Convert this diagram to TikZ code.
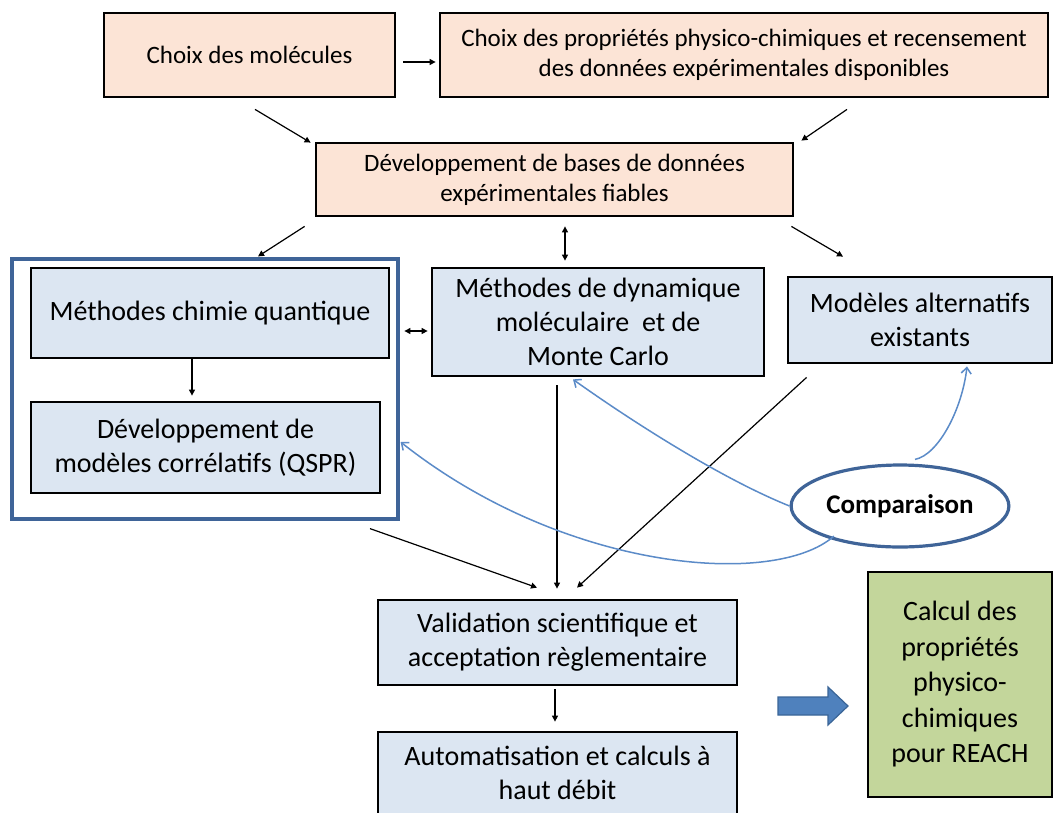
\documentclass[tikz,border=0pt]{standalone}
\usepackage{fontspec}
\setmainfont{Carlito}
\usetikzlibrary{calc,arrows.meta,shapes.geometric,shadows}
\definecolor{peach}{HTML}{FCE4D6}
\definecolor{paleblue}{HTML}{DCE6F2}
\definecolor{palegreen}{HTML}{C3D69B}
\definecolor{framblue}{HTML}{3F6498}
\definecolor{curveblue}{HTML}{5B8BC8}
\definecolor{arrfill}{HTML}{4F81BD}
\definecolor{arrdraw}{HTML}{3A6597}
\begin{document}
\begin{tikzpicture}[x=1pt,y=-1pt,
  boxbase/.style={draw=black, line width=2.8pt, align=center, inner sep=2pt,
    drop shadow={shadow xshift=0.8pt, shadow yshift=-1.2pt, fill=black, opacity=1}},
  topbox/.style={boxbase, fill=peach, font=\fontsize{25}{30}\selectfont},
  bluebox/.style={boxbase, fill=paleblue, font=\fontsize{28}{34}\selectfont},
  greenbox/.style={boxbase, fill=palegreen, font=\fontsize{28}{35.5}\selectfont},
  arr/.style={-{Triangle[length=6pt,width=6pt]}, line width=1.2pt, black},
  darr/.style={{Triangle[length=6pt,width=6pt]}-{Triangle[length=6pt,width=6pt]}, line width=1.2pt, black},
  barr/.style={-{Straight Barb[length=6pt,width=10pt]}, line width=1.5pt, curveblue},
]
\useasboundingbox (0,0) rectangle (1054,812);
\fill[white] (0,0) rectangle (1054,812);

% top row
\node[topbox, minimum width=291pt, minimum height=84pt] (b1) at (249.5,55) {Choix des molécules};
\node[topbox, minimum width=608pt, minimum height=84pt] (b2) at (744,55) {Choix des propriétés physico-chimiques et recensement\\des données expérimentales disponibles};
\node[topbox, minimum width=477pt, minimum height=73pt] (b3) at (554.5,179.5) {Développement de bases de données\\expérimentales fiables};

% frame
\node[draw=framblue, line width=3.2pt, minimum width=386pt, minimum height=260pt] (fr) at (205,389) {};
\node[bluebox, minimum width=358pt, minimum height=90pt] (qc) at (210,313) {Méthodes chimie quantique};
\node[bluebox, minimum width=349pt, minimum height=91pt] (qs) at (205.5,447.5) {Développement de\\modèles corrélatifs (QSPR)};
\node[bluebox, minimum width=332pt, minimum height=108pt] (md) at (598,322) {Méthodes de dynamique\\moléculaire\ \ et de\\Monte Carlo};
\node[bluebox, minimum width=264pt, minimum height=86pt] (alt) at (920,320) {Modèles alternatifs\\existants};
\node[bluebox, minimum width=359pt, minimum height=85pt] (val) at (557.5,642.5) {Validation scientifique et\\acceptation règlementaire};
\node[bluebox, minimum width=359pt, minimum height=82pt] (aut) at (557.5,773) {Automatisation et calculs à\\haut débit};
\node[greenbox, minimum width=184pt, minimum height=225pt] (res) at (960,684.5) {Calcul des\\propriétés\\physico-\\chimiques\\pour REACH};
\node[ellipse, draw=framblue, line width=3.2pt, fill=white, minimum width=188pt, minimum height=82pt, font=\fontsize{27}{30}\selectfont\bfseries] (cmp) at (900,506) {Comparaison};

% black connectors
\draw[arr] ($(b1.east)+(7,7)$) -- ($(b2.west)+(-3,7)$);
\draw[arr] ($(b1.south)+(5.5,11)$) -- ($(b3.north west)+(-4,1)$);
\draw[arr] ($(b2.south)+(103,11)$) -- ($(b3.north east)+(7,-1)$);
\draw[arr] ($(b3.south west)+(-10,9)$) -- ($(fr.north)+(53,-1)$);
\draw[darr] ($(b3.south)+(10.5,9)$) -- ($(md.north)+(-33,-6)$);
\draw[arr] ($(b3.south east)+(-3,9)$) -- ($(alt.north)+(-77,-19)$);
\draw[arr] ($(qc.south)+(-18,0)$) -- ($(qs.north)+(-13.5,-5)$);
\draw[darr] ($(qc.east)+(14,18)$) -- ($(md.west)+(-3,9)$);
\draw[arr] ($(fr.south)+(165,8)$) -- ($(val.north)+(-20.5,-11)$);
\draw[arr] ($(md.south)+(-41,8)$) -- ($(val.north)+(-0.5,-10)$);
\draw[arr] ($(alt.south west)+(20,13)$) -- ($(val.north)+(19.5,-11)$);
\draw[arr] ($(val.south)+(-2.5,3)$) -- ($(aut.north)+(-2.5,-9)$);

% blue curves
\draw[barr] (cmp.west) .. controls (720,478) and (630,420) .. ($(md.south)+(-25,2)$);
\draw[barr] ($(cmp.north)+(15,-4)$) .. controls (938,455) and (962,410) .. ($(alt.south)+(47,2)$);
\draw[barr] ($(cmp.south west)+(12,0)$) .. controls (775,588) and (565,572) .. ($(fr.east)+(1,53)$);

% block arrow
\draw[fill=arrfill, draw=arrdraw, line width=1.2pt]
  (778,697) -- (828,697) -- (828,687) -- (848,706) -- (828,725) -- (828,715) -- (778,715) -- cycle;
\end{tikzpicture}
\end{document}
